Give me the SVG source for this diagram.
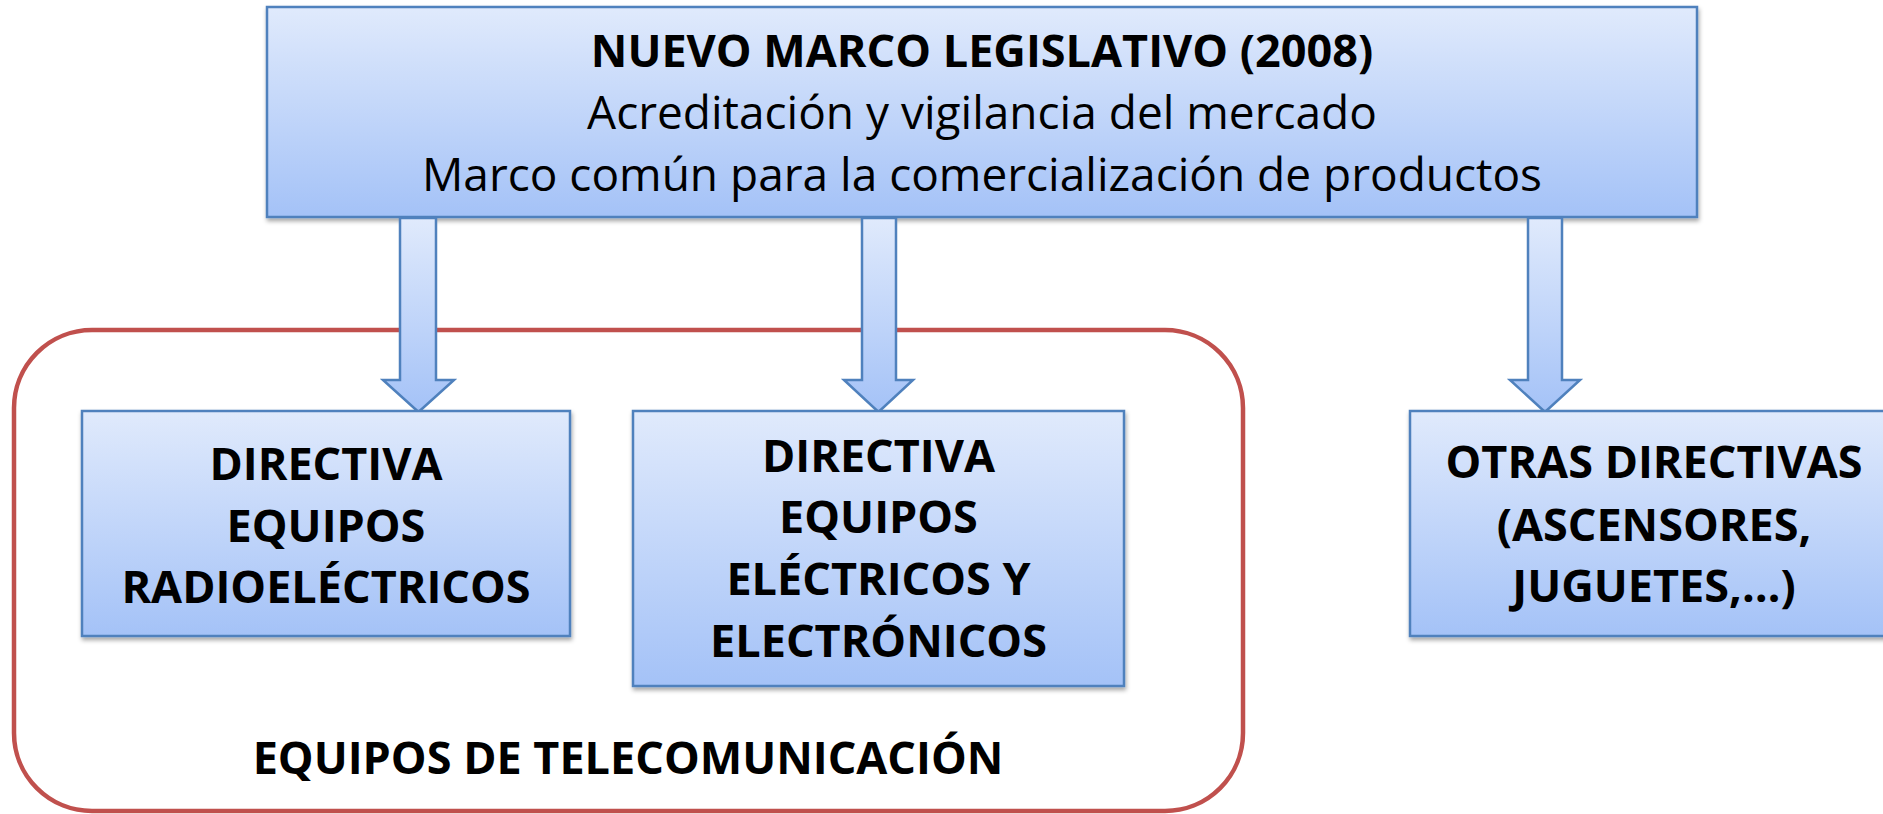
<svg xmlns="http://www.w3.org/2000/svg" width="1883" height="814" viewBox="0 0 1883 814">
<defs>
<linearGradient id="g" x1="0" y1="0" x2="0" y2="1">
<stop offset="0" stop-color="#E0EAFC"/>
<stop offset="1" stop-color="#A4C2F7"/>
</linearGradient>
<filter id="sh" x="-5%" y="-5%" width="112%" height="120%">
<feDropShadow dx="1" dy="3" stdDeviation="2" flood-color="#000" flood-opacity="0.35"/>
</filter>
<style>
.box{fill:url(#g);stroke:#4F81BD;stroke-width:2.5;filter:url(#sh)}
.arr{fill:url(#g);stroke:#4F81BD;stroke-width:2.5}
.t{font-family:"Open Sans","Liberation Sans",sans-serif;font-size:46px;fill:#000;text-anchor:middle}
.b{font-weight:bold;font-size:45px}
</style>
</defs>
<rect width="1883" height="814" fill="#fff"/>
<g id="telecom">
<rect x="14" y="330" width="1229" height="481" rx="78" ry="78" fill="none" stroke="#C0504D" stroke-width="4.5"/>
<text class="t b" x="628" y="774">EQUIPOS DE TELECOMUNICACIÓN</text>
</g>
<g id="nlf">
<rect class="box" x="267" y="7" width="1430" height="210"/>
<text class="t b" x="982" y="67">NUEVO MARCO LEGISLATIVO (2008)</text>
<text class="t" x="982" y="129">Acreditación y vigilancia del mercado</text>
<text class="t" x="982" y="191">Marco común para la comercialización de productos</text>
</g>
<g id="connectors">
<path class="arr" d="M400,218 L436,218 L436,380 L454,380 L418.5,412 L383,380 L400,380 Z"/>
<path class="arr" d="M862,218 L896,218 L896,380 L913,380 L878.5,412 L844,380 L862,380 Z"/>
<path class="arr" d="M1528,218 L1562,218 L1562,380 L1580,380 L1545,412 L1510,380 L1528,380 Z"/>
</g>
<g id="radio">
<rect class="box" x="82" y="411" width="488" height="225"/>
<text class="t b" x="326" y="480">DIRECTIVA</text>
<text class="t b" x="326" y="542">EQUIPOS</text>
<text class="t b" x="326" y="603">RADIOELÉCTRICOS</text>
</g>
<g id="electricos">
<rect class="box" x="633" y="411" width="491" height="275"/>
<text class="t b" x="878.5" y="472">DIRECTIVA</text>
<text class="t b" x="878.5" y="533">EQUIPOS</text>
<text class="t b" x="878.5" y="595">ELÉCTRICOS Y</text>
<text class="t b" x="878.5" y="657">ELECTRÓNICOS</text>
</g>
<g id="otras">
<rect class="box" x="1410" y="411" width="490" height="225"/>
<text class="t b" x="1654" y="478">OTRAS DIRECTIVAS</text>
<text class="t b" x="1654" y="541">(ASCENSORES,</text>
<text class="t b" x="1654" y="602">JUGUETES,…)</text>
</g>
</svg>
